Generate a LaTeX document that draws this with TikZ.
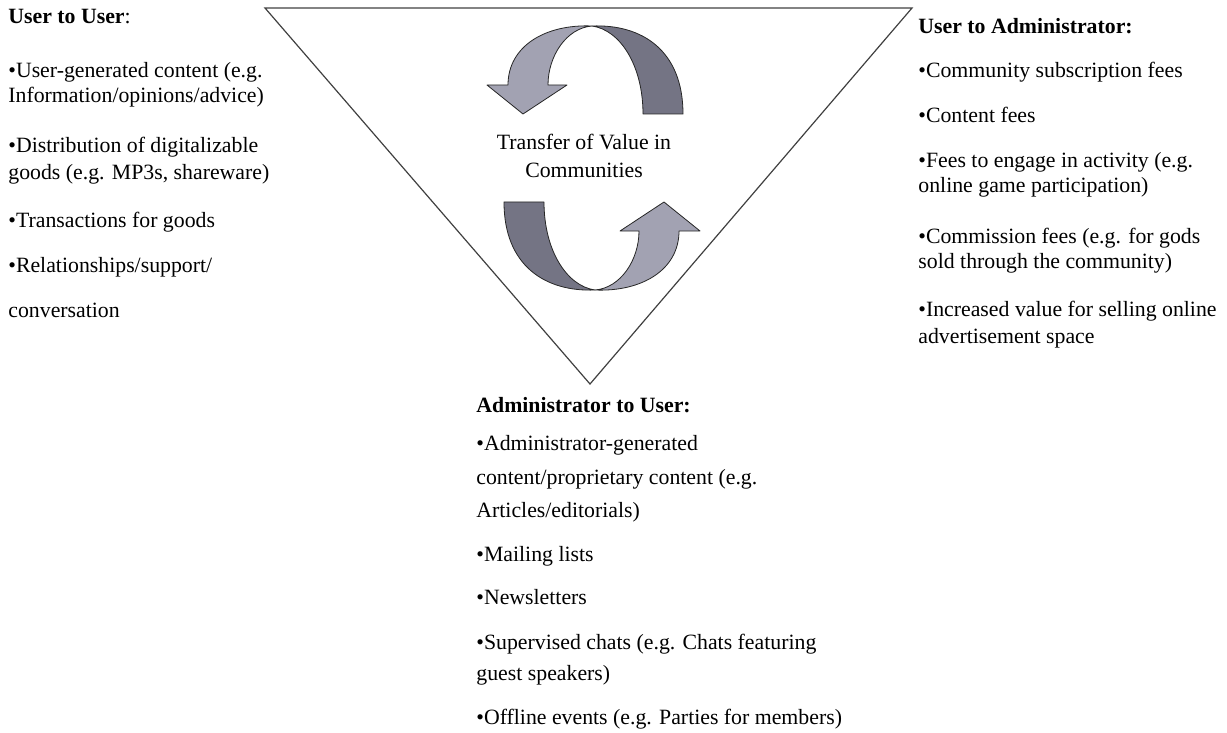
\documentclass[tikz,border=0pt]{standalone}
\usepackage{fontspec}
\setmainfont{Liberation Serif}

\definecolor{arrowlight}{RGB}{162,162,178}
\definecolor{arrowdark}{RGB}{116,116,132}

\tikzset{
  txt/.style={anchor=west, inner sep=0pt, text height=1.5ex, text depth=.25ex,
              font=\fontsize{10.9}{12.5}\selectfont},
  mid/.style={txt, anchor=center},
  lightpart/.style={fill=arrowlight, draw=black!85, line width=0.4pt, line join=round},
  darkpart/.style={fill=arrowdark, draw=black!85, line width=0.4pt, line join=round},
}

% one half of the value cycle: ribbon turning over at the crossing
\newcommand{\swirlarrow}{%
  \draw[darkpart] (-1.5,-132) .. controls (48,-134) and (89.5,-108) .. (89.5,-44)
        -- (49.5,-44) .. controls (49.5,-92) and (27,-128) .. (-1.5,-132) -- cycle;
  \draw[lightpart] (-45.5,-73) -- (-26.5,-73) -- (-70.5,-44) -- (-106.5,-73) -- (-85.5,-73)
        .. controls (-85.5,-112) and (-48,-134) .. (-1.5,-132)
        .. controls (-27,-130) and (-45.5,-102) .. (-45.5,-73) -- cycle;
}

\begin{document}
\begin{tikzpicture}[x=0.5pt, y=-0.5pt]
   \useasboundingbox (0,0) rectangle (1227,733);

   % triangle
   \draw[black!75, line width=0.6pt] (265,8) -- (912,8) -- (590,384) -- cycle;

   % arrows
   \begin{scope}[shift={(593.5,158)}]
     \swirlarrow
   \end{scope}
   \begin{scope}[shift={(593.5,158)}, rotate=180]
     \swirlarrow
   \end{scope}

   \node[mid] (tv1) at (584,144) {Transfer of Value in};
   \node[mid] (tv2) at (584,172) {Communities};

   % user to user
   \node[txt] (uu0) at (8,18)  {\textbf{User to User}:};
   \node[txt] (uu1) at (8,72)  {•User-generated content (e.g.};
   \node[txt] (uu2) at (8,97)  {Information/opinions/advice)};
   \node[txt] (uu3) at (8,147) {•Distribution of digitalizable};
   \node[txt] (uu4) at (8,174) {goods (e.g. MP3s, shareware)};
   \node[txt] (uu5) at (8,222) {•Transactions for goods};
   \node[txt] (uu6) at (8,267) {•Relationships/support/};
   \node[txt] (uu7) at (8,312) {conversation};

   % user to administrator
   \node[txt] (ua0) at (918,28)  {\textbf{User to Administrator:}};
   \node[txt] (ua1) at (918,72)  {•Community subscription fees};
   \node[txt] (ua2) at (918,117) {•Content fees};
   \node[txt] (ua3) at (918,162) {•Fees to engage in activity (e.g.};
   \node[txt] (ua4) at (918,187) {online game participation)};
   \node[txt] (ua5) at (918,238) {•Commission fees (e.g. for gods};
   \node[txt] (ua6) at (918,263) {sold through the community)};
   \node[txt] (ua7) at (918,311) {•Increased value for selling online};
   \node[txt] (ua8) at (918,338) {advertisement space};

   % administrator to user
   \node[txt] (au0) at (476,407) {\textbf{Administrator to User:}};
   \node[txt] (au1) at (476,445) {•Administrator-generated};
   \node[txt] (au2) at (476,479) {content/proprietary content (e.g.};
   \node[txt] (au3) at (476,512) {Articles/editorials)};
   \node[txt] (au4) at (476,556) {•Mailing lists};
   \node[txt] (au5) at (476,599) {•Newsletters};
   \node[txt] (au6) at (476,644) {•Supervised chats (e.g. Chats featuring};
   \node[txt] (au7) at (476,675) {guest speakers)};
   \node[txt] (au8) at (476,719) {•Offline events (e.g. Parties for members)};
\end{tikzpicture}
\end{document}
